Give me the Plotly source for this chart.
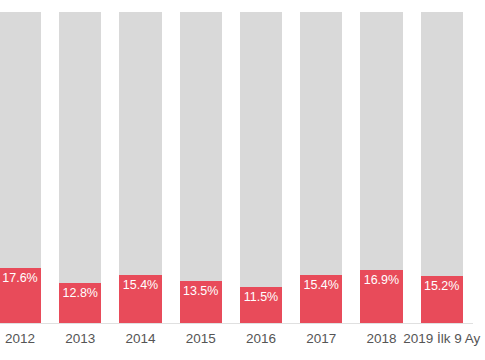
import plotly.graph_objects as go

categories = ["2012", "2013", "2014", "2015", "2016", "2017", "2018", "2019 İlk 9 Ay"]
share = [17.6, 12.8, 15.4, 13.5, 11.5, 15.4, 16.9, 15.2]
rest = [round(100 - v, 1) for v in share]
labels = [f"{v:.1f}%" for v in share]

red = "#E84B5A"
grey = "#D9D9D9"
font = "Arial, Liberation Sans, Helvetica, sans-serif"

idx = list(range(len(categories)))

fig = go.Figure()
fig.add_trace(go.Bar(
    x=idx, y=share, marker=dict(color=red, line=dict(width=0)),
    width=0.70, text=labels, textposition="inside", insidetextanchor="end",
    textfont=dict(color="white", size=12.5, family=font),
    hoverinfo="skip", textangle=0,
))
fig.add_trace(go.Bar(
    x=idx, y=rest, marker=dict(color=grey, line=dict(width=0)),
    width=0.70, hoverinfo="skip",
))
fig.update_layout(
    barmode="stack",
    width=485, height=360,
    margin=dict(l=0, r=12, t=12, b=37, autoexpand=False),
    paper_bgcolor="white", plot_bgcolor="white",
    showlegend=False,
    font=dict(family=font, size=12, color="#555555"),
    uniformtext=dict(minsize=12, mode="show"),
)
fig.update_xaxes(
    tickmode="array", tickvals=idx, ticktext=categories,
    range=[-0.332, 7.52], showgrid=False, zeroline=False,
    showline=True, linecolor="#E0E0E0", linewidth=1,
    ticks="", tickfont=dict(size=13.5, color="#555555", family=font),
    ticklabelstandoff=3, automargin=False,
)
fig.update_yaxes(range=[0, 100], visible=False, showgrid=False, zeroline=False)

fig.write_html(
    "out.html",
    config={"displayModeBar": False},
    post_script="document.body.style.margin='0';document.body.style.overflow='hidden';",
)
